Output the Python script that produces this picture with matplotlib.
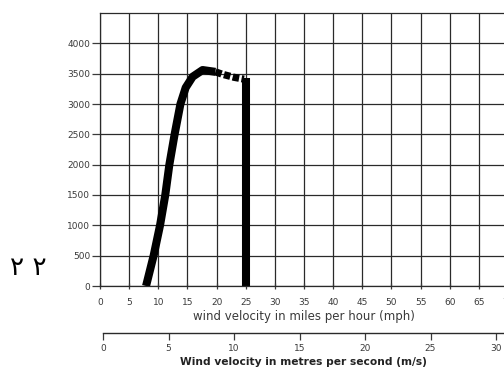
import numpy as np
import matplotlib.pyplot as plt

# power curve (wind speed in mph, output in kW)
mph_rise = [7.9, 9.2, 10.3, 11.2, 11.9, 12.8, 13.8, 14.7, 15.9, 17.6, 19.8]
kw_rise = [0, 500, 1000, 1500, 2000, 2500, 3000, 3270, 3450, 3560, 3530]
mph_dash = [19.8, 21.0, 23.0, 24.7]
kw_dash = [3530, 3490, 3440, 3410]
mph_cut = [25, 25]
kw_cut = [3430, 0]

mph_ticks = list(range(0, 75, 5))
kw_ticks = list(range(0, 4500, 500))
ms_ticks = [0, 5, 10, 15, 20, 25, 30]

page_label = "٢ ٢"
mph_label = "wind velocity in miles per hour (mph)"
ms_label = "Wind velocity in metres per second (m/s)"

W, H = 504, 368
fig = plt.figure(figsize=(W / 100, H / 100), dpi=100)
fig.patch.set_facecolor('white')

grey = '#3a3a3a'
ax = fig.add_axes([100 / W, 1 - 286 / H, 408 / W, (286 - 13) / H])
ax.set_xlim(0, 70)
ax.set_ylim(0, 4500)
ax.set_xticks(mph_ticks)
ax.set_yticks(kw_ticks)
ax.grid(True, color='#2a2a2a', linewidth=0.9)
ax.set_axisbelow(True)
for s in ax.spines.values():
    s.set_color('#2a2a2a')
    s.set_linewidth(0.9)
ax.tick_params(axis='y', length=6, width=0.9, color=grey, labelsize=6.5,
               labelcolor=grey, pad=1)
ax.tick_params(axis='x', direction='inout', length=5, width=0.9, color=grey,
               labelsize=6.5, labelcolor=grey, pad=6)
ax.set_xlabel(mph_label, fontsize=8.5, color=grey, labelpad=2)

ax.plot(mph_rise, kw_rise, color='black', linewidth=5.8,
        solid_capstyle='butt', solid_joinstyle='round')
ax.plot(mph_dash, kw_dash, color='black', linewidth=5.2,
        linestyle=(0, (0.9, 0.35)), dash_capstyle='butt')
ax.plot(mph_cut, kw_cut, color='black', linewidth=5.8, solid_capstyle='butt')

# second scale in m/s
ax2 = fig.add_axes([103 / W, 1 - 333 / H, 401 / W, 0.001])
ax2.set_xlim(0, 401 / 13.1)
ax2.set_ylim(0, 1)
ax2.set_yticks([])
ax2.set_xticks(ms_ticks)
for k in ['top', 'left', 'right']:
    ax2.spines[k].set_visible(False)
ax2.spines['bottom'].set_color('#2a2a2a')
ax2.spines['bottom'].set_linewidth(1.0)
ax2.patch.set_alpha(0)
ax2.tick_params(axis='x', length=5, width=0.9, color=grey, labelsize=6.5,
                labelcolor=grey, pad=3)
ax2.set_xlabel(ms_label, fontsize=7.7, color='#222222', fontweight='bold',
               labelpad=3)

fig.text(28 / W, 1 - 268 / H, page_label, fontsize=19, ha='center',
         va='center', family=['DejaVu Sans', 'Noto Sans'])

fig.savefig('out.png', dpi=100)
